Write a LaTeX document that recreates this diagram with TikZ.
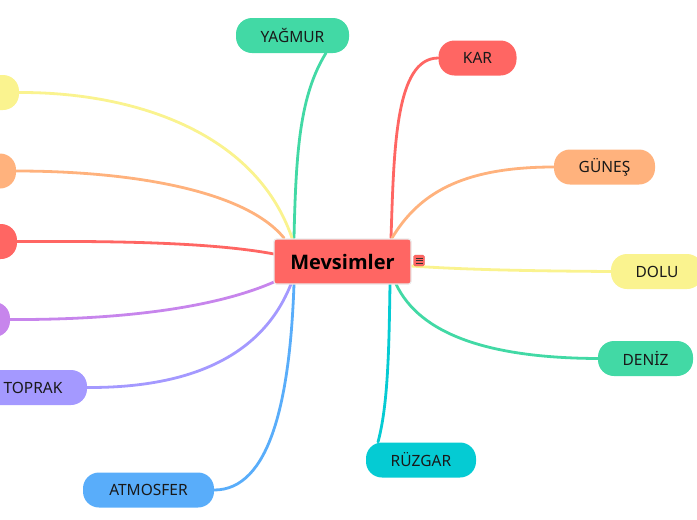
\documentclass[tikz,border=0pt]{standalone}
\usepackage{fontspec}
\setmainfont{Noto Sans}
\newfontfamily\rootfont{Open Sans}
\definecolor{cgreen}{HTML}{42D9A5}
\definecolor{cred}{HTML}{FF6663}
\definecolor{corange}{HTML}{FFB27D}
\definecolor{cyellow}{HTML}{FAF38F}
\definecolor{cteal}{HTML}{05CBD3}
\definecolor{cblue}{HTML}{59ADFA}
\definecolor{cviolet}{HTML}{A499FF}
\definecolor{cpurple}{HTML}{C785EC}
\tikzset{
  topic/.style={rounded corners=16pt,minimum height=35pt,inner sep=0pt,font=\fontsize{15.5pt}{18pt}\selectfont,text=black!90},
  link/.style={line width=2.8pt,line cap=round},
}
\begin{document}
\begin{tikzpicture}[x=1pt,y=-1pt]
\useasboundingbox (0,0) rectangle (697,520);
\clip (0,0) rectangle (697,520);
% connector ends
\coordinate (rn1) at (292,238); \coordinate (rn2) at (284,238); \coordinate (rn3) at (294,238);
\coordinate (rn4) at (391,238); \coordinate (rn5) at (392,238);
\coordinate (rs1) at (396,284); \coordinate (rs2) at (390,284);
\coordinate (rs3) at (294,284); \coordinate (rs4) at (291,284);
\coordinate (rw1) at (274,254); \coordinate (rw2) at (274,282);
\coordinate (re1) at (411,266);
\coordinate (ey) at (326,53);
\coordinate (er) at (378,442);
% nodes
\node[topic,fill=cgreen,minimum width=113pt] (yagmur) at (292.5,35.5) {YAĞMUR};
\node[topic,fill=cred,minimum width=78pt] (kar) at (477.5,58) {KAR};
\node[topic,fill=corange,minimum width=101pt] (gunes) at (604.5,167) {GÜNEŞ};
\node[topic,fill=cyellow,minimum width=92pt] (dolu) at (657,271.5) {DOLU};
\node[topic,fill=cgreen,minimum width=95pt] (deniz) at (645.5,358.5) {DENİZ};
\node[topic,fill=cteal,minimum width=110pt] (ruzgar) at (421,460) {RÜZGAR};
\node[topic,fill=cblue,minimum width=131pt] (atmosfer) at (148.5,490) {ATMOSFER};
\node[topic,fill=cviolet,minimum width=108pt] (toprak) at (33,387.5) {TOPRAK};
\node[topic,fill=cpurple,minimum width=40pt] (mor) at (-10,319.5) {};
\node[topic,fill=cred,minimum width=54pt] (kirmizi) at (-10,241.5) {};
\node[topic,fill=corange,minimum width=52pt] (turuncu) at (-10,171) {};
\node[topic,fill=cyellow,minimum width=58pt] (sari) at (-10,92.5) {};
% connectors
\draw[link,cgreen] (rn3) .. controls (296,150) and (300,95) .. (ey);
\draw[link,cred] (rn4) .. controls (394,150) and (395,58) .. (kar.west);
\draw[link,corange] (rn5) .. controls (418,195) and (460,167) .. (gunes.west);
\draw[link,cyellow] (re1) .. controls (470,270) and (540,271) .. (dolu.west);
\draw[link,cgreen] (rs1) .. controls (420,335) and (490,358) .. (deniz.west);
\draw[link,cteal] (rs2) .. controls (389,350) and (388,405) .. (er);
\draw[link,cblue] (rs3) .. controls (290,400) and (270,490) .. (atmosfer.east);
\draw[link,cviolet] (rs4) .. controls (265,350) and (200,388) .. (toprak.east);
\draw[link,cpurple] (rw2) .. controls (210,310) and (110,320) .. (mor.east);
\draw[link,cred] (rw1) .. controls (210,242) and (110,241) .. (kirmizi.east);
\draw[link,corange] (rn2) .. controls (245,190) and (130,171) .. (turuncu.east);
\draw[link,cyellow] (rn1) .. controls (255,130) and (130,92) .. (sari.east);
% central topic
\node[draw=black!8,line width=1.2pt,fill=cred,rounded corners=2.5pt,minimum width=137pt,minimum height=45pt,inner sep=0pt,font=\rootfont\bfseries\fontsize{20pt}{24pt}\selectfont,text=black] (root) at (342.5,261.5) {Mevsimler};
\node[fill=cred,draw=cred!85!black,line width=.3pt,rounded corners=1.5pt,minimum size=11pt,inner sep=0pt] (note) at (419,260.5) {};
\draw[black!80,line width=.5pt] (415.5,258.2) -- (422.5,258.2) (415.5,260.5) -- (422.5,260.5) (415.5,262.8) -- (422.5,262.8);
\end{tikzpicture}
\end{document}
